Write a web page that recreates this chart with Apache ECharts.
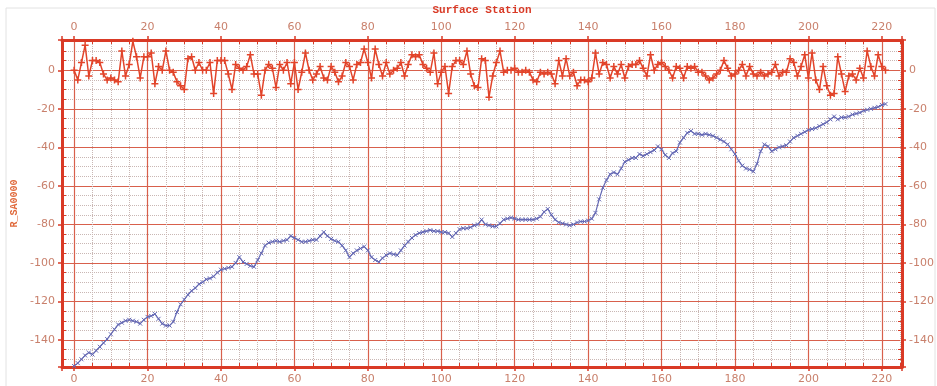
<!DOCTYPE html>
<html lang="en">

<head>
    <meta charset="UTF-8">
    <title>Surface Station</title>
    <script src="https://cdn.jsdelivr.net/npm/echarts@6/dist/echarts.min.js"></script>
    <style>
        body {
            margin: 0;
            background-color: #fff;
        }
        #main {
            width: 937px;
            height: 386px;
        }
    </style>
</head>

<body>
    <div id="main"></div>
    <script type="text/javascript">
        // 红线：地表站点 残差（0 附近波动）
        var redVals = [
            0, -5, 4, 13, -3, 5, 5, 4, -2, -5, -4, -5, -6, 10, -3, 3, 15, 7, -4, 7,
            7, 9, -7, 2, 0, 10, 0, -1, -6, -8, -10, 6, 7, 0, 4, 0, 0, 4, -12, 5,
            5, 5, -2, -10, 3, 1, 0, 2, 8, -2, -2, -13, 0, 3, 1, -9, 3, 0, 4, -7,
            4, -10, -1, 9, 0, -5, -2, 2, -4, -5, 2, -1, -6, -3, 4, 2, -5, 3, 4, 11,
            4, -4, 11, 3, -3, 4, -2, 0, 1, 4, -3, 3, 8, 7, 8, 3, 1, -1, 9, -7,
            -1, 2, -12, 2, 5, 5, 3, 10, -2, -8, -9, 6, 5, -14, -3, 4, 10, -1, 0, 0,
            1, -1, -1, 0, -1, -5, -6, -1, -2, -1, -2, -7, 5, -3, 6, -3, -1, -8, -5, -5,
            -6, -4, 9, -2, 4, 3, -4, 2, -2, 3, -4, 2, 3, 3, 5, 1, -3, 8, 0, 3,
            4, 2, 0, -4, 2, 1, -4, 2, 1, 2, -1, -1, -3, -5, -4, -2, 0, 5, 1, -3,
            -2, 0, 3, -3, 2, -2, -3, -1, -3, -2, -1, 3, -3, -1, -1, 6, 4, -3, 2, 8,
            -4, 9, -5, -10, 2, -8, -13, -12, 7, -2, -11, -3, -2, -5, 1, -4, 10, 2, -3, 8,
            2, 0
        ];

        // 蓝线：累积曲线
        var blueVals = [
            -153.5, -152, -150, -148, -146.5, -147.5, -145.5, -143.5, -141.5, -139.5,
            -137, -134.5, -132, -131, -130, -129.5, -130, -130.5, -131.5, -129.5,
            -128, -127.5, -126.5, -129, -131.5, -132.5, -132.5, -130.5, -125.5, -121.5,
            -119, -116.5, -114.5, -113, -111, -110, -108.5, -108, -107, -105,
            -103.5, -103, -102.5, -102, -100, -97, -99.5, -100.5, -101.5, -102,
            -98.5, -95, -91, -89.5, -89, -88.5, -89, -88.5, -88, -86,
            -87, -88, -89, -89, -88.5, -88, -88, -86, -84, -86,
            -87.5, -88.5, -89, -91, -93.5, -97, -95, -93.5, -92.5, -91.5,
            -93.5, -97, -98.5, -99.5, -97.5, -96, -95, -95.5, -96, -93.5,
            -91, -89, -87, -85.5, -84.5, -84, -83.5, -83, -83.5, -83.5,
            -84, -84, -84.5, -86.5, -84.5, -82.5, -82, -82, -81.5, -80.5,
            -80, -77.5, -80, -80.5, -81, -81, -79.5, -77.5, -77, -76.5,
            -77, -77.5, -77.5, -77.5, -77.5, -77.5, -77, -76, -73.5, -72,
            -75, -77.5, -79, -79.5, -80, -80.5, -80, -79, -78.5, -78.5,
            -78, -77, -74, -67, -61, -57, -54, -53, -54, -51,
            -47.5, -46.5, -45.5, -45.5, -43.5, -44.5, -43.5, -42.5, -41.5, -39.5,
            -41, -44, -45.5, -43, -42, -37.5, -35, -32.5, -31.5, -33,
            -33, -33.5, -33, -33.5, -34, -35, -36, -37, -38.5, -41,
            -43.5, -47, -49.5, -51, -51.5, -52.5, -48.5, -42, -38.5, -39.5,
            -42, -41, -40, -39.5, -39, -37, -35, -34, -33, -32,
            -31, -30.5, -30, -29, -28, -27, -25.5, -24, -25.5, -24.5,
            -24.5, -24, -23, -22.5, -22, -21, -20.5, -20, -19.5, -19,
            -18, -17.5
        ];

        var xMin = -3.3, xMax = 225.5;
        var yMin = -154, yMax = 15.7;

        var red = '#d93a26';
        var labelColor = '#c9806c';

        var myChart = echarts.init(document.getElementById('main'));

        function axisCommon(extra) {
            var base = {
                type: 'value',
                minInterval: 20,
                maxInterval: 20,
                axisLine: { show: true, onZero: false, lineStyle: { color: red, width: 3 } },
                axisTick: { show: true, length: 4, lineStyle: { color: red, width: 1.5 } },
                minorTick: { show: true, splitNumber: 4, length: -4, lineStyle: { color: red, width: 1 } },
                axisLabel: {
                    color: labelColor,
                    fontFamily: 'DejaVu Sans',
                    fontSize: 11,
                    margin: 7,
                    formatter: function (v) { return Math.abs(v % 20) < 1e-6 ? v : ''; }
                },
                splitLine: { show: false },
                minorSplitLine: { show: false }
            };
            return Object.assign(base, extra);
        }

        var option = {
            backgroundColor: '#fff',
            animation: false,
            graphic: [{
                type: 'rect',
                shape: { x: 6, y: 8, width: 929, height: 390 },
                style: { fill: 'none', stroke: '#e2e2e2', lineWidth: 1 },
                silent: true,
                z: -10
            }],
            grid: {
                left: 62,
                right: 32,
                top: 37,
                bottom: 19
            },
            xAxis: [
                axisCommon({
                    position: 'bottom',
                    min: xMin,
                    max: xMax,
                    splitLine: { show: true, lineStyle: { color: '#d8604c', width: 1.2 } },
                    minorSplitLine: { show: true, lineStyle: { color: '#c9b7b4', width: 1, type: 'dotted' } }
                }),
                axisCommon({
                    position: 'top',
                    min: xMin,
                    max: xMax,
                    name: 'Surface Station',
                    nameLocation: 'middle',
                    nameGap: 24,
                    nameTextStyle: {
                        color: red,
                        fontFamily: 'Liberation Mono',
                        fontWeight: 'bold',
                        fontSize: 11
                    }
                })
            ],
            yAxis: [
                axisCommon({
                    position: 'left',
                    min: yMin,
                    max: yMax,
                    name: 'R_SA0000',
                    nameLocation: 'middle',
                    nameGap: 42,
                    nameRotate: 90,
                    nameTextStyle: {
                        color: '#e06a3c',
                        fontFamily: 'Liberation Mono',
                        fontWeight: 'bold',
                        fontSize: 10
                    },
                    splitLine: { show: true, lineStyle: { color: '#d8604c', width: 1.2 } },
                    minorSplitLine: { show: true, lineStyle: { color: '#c9b7b4', width: 1, type: 'dotted' } }
                }),
                axisCommon({
                    position: 'right',
                    min: yMin,
                    max: yMax
                })
            ],
            series: [
                {
                    name: 'red',
                    type: 'line',
                    data: redVals.map(function (v, i) { return [i, v]; }),
                    symbol: 'path://M5,0 L5,10 M0,5 L10,5',
                    symbolSize: 7,
                    showAllSymbol: true,
                    lineStyle: { color: '#e2442a', width: 1.5 },
                    itemStyle: { color: 'none', borderColor: '#e2442a', borderWidth: 1.5 },
                    z: 3
                },
                {
                    name: 'blue',
                    type: 'line',
                    data: blueVals.map(function (v, i) { return [i, v]; }),
                    symbol: 'path://M0,0 L10,10 M10,0 L0,10',
                    symbolSize: 4,
                    showAllSymbol: true,
                    lineStyle: { color: '#6468b4', width: 1.2 },
                    itemStyle: { color: 'none', borderColor: '#6468b4', borderWidth: 1 },
                    z: 2
                }
            ]
        };

        myChart.setOption(option);
    </script>
</body>

</html>
